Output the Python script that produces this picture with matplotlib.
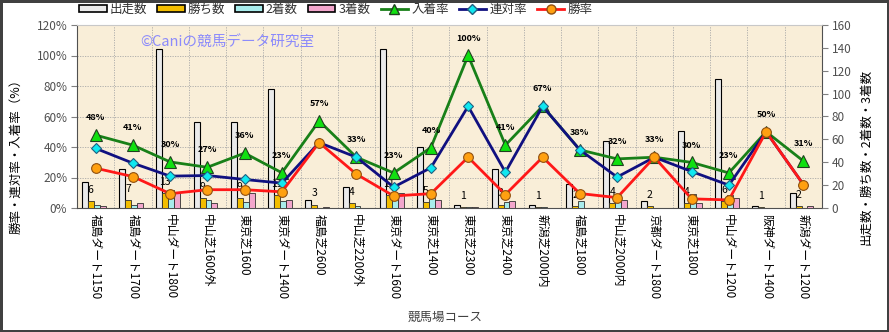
import matplotlib
matplotlib.use("Agg")
import matplotlib.pyplot as plt
from matplotlib.patches import Patch
from matplotlib.lines import Line2D
import numpy as np

plt.rcParams['font.family'] = ['Noto Sans CJK JP', 'DejaVu Sans']

categories = ['福島ダート1150', '福島ダート1700', '中山ダート1800', '中山芝1600外', '東京芝1600',
              '東京ダート1400', '福島芝2600', '中山芝2200外', '東京ダート1600', '東京芝1400',
              '東京芝2300', '東京芝2400', '新潟芝2000内', '福島芝1800', '中山芝2000内',
              '京都ダート1800', '東京芝1800', '中山ダート1200', '阪神ダート1400', '新潟ダート1200']
starts = [23, 34, 139, 75, 75, 104, 7, 18, 139, 53, 3, 34, 3, 21, 59, 6, 67, 113, 2, 13]
wins = [6, 7, 13, 9, 9, 11, 3, 4, 11, 5, 1, 3, 1, 2, 4, 2, 4, 6, 1, 2]
seconds = [3, 3, 16, 7, 5, 6, 0, 2, 8, 9, 1, 5, 1, 6, 8, 0, 12, 11, 0, 0]
thirds = [2, 4, 13, 4, 13, 7, 1, 0, 13, 7, 1, 6, 0, 0, 7, 0, 4, 9, 0, 2]
win_rate = [26.1, 20.6, 9.4, 12.0, 12.0, 10.6, 42.9, 22.2, 7.9, 9.4, 33.3, 8.8, 33.3, 9.5, 6.8, 33.3, 6.0, 5.3, 50.0, 15.4]
rentai_rate = [39.1, 29.4, 20.9, 21.3, 18.7, 16.3, 42.9, 33.3, 13.7, 26.4, 66.7, 23.5, 66.7, 38.1, 20.3, 33.3, 23.9, 15.0, 50.0, 15.4]
place_rate = [47.8, 41.2, 30.2, 26.7, 36.0, 23.1, 57.1, 33.3, 23.0, 39.6, 100.0, 41.2, 66.7, 38.1, 32.2, 33.3, 29.9, 23.0, 50.0, 30.8]
pct_ticks = [0, 20, 40, 60, 80, 100, 120]
cnt_ticks = [0, 20, 40, 60, 80, 100, 120, 140, 160]

W, H = 889, 332
fig = plt.figure(figsize=(W / 100, H / 100), dpi=100)
fig.patch.set_facecolor('white')
fig.patch.set_edgecolor('#404040')
fig.patch.set_linewidth(2.5)

rect = [77 / W, 1 - 208 / H, (822 - 77) / W, (208 - 25) / H]
ax = fig.add_axes(rect)
ax.set_facecolor('#f9eed8')
n = len(categories)
x = np.arange(n)
ax.set_xlim(-0.5, n - 0.5)
ax.set_ylim(0, 120)
ax.set_yticks(pct_ticks)
ax.set_yticklabels([f'{t}%' for t in pct_ticks])
ax.set_xticks(x)
ax.set_xticklabels(categories, rotation=270, fontsize=8.5, color='black', va='top', ha='center')
ax.set_xticks(x[:-1] + 0.5, minor=True)
ax.tick_params(axis='x', which='both', length=0, pad=4)
ax.tick_params(axis='y', length=4, colors='#808080', labelcolor='#505050', labelsize=8.5, pad=3)
ax.grid(True, axis='y', color='#a8a8a8', linestyle=(0, (1.5, 1.5)), linewidth=0.6)
ax.grid(True, axis='x', which='minor', color='#a8a8a8', linestyle=(0, (1.5, 1.5)), linewidth=0.6)
for s in ['left', 'bottom']:
    ax.spines[s].set_color('#505050')
ax.spines['top'].set_color('#c8c8c8')
ax.spines['right'].set_color('#505050')
ax.set_axisbelow(True)
ax.set_ylabel('勝率・連対率・入着率（%）', fontsize=9, color='black')
ax.yaxis.set_label_coords(-55 / 745, 0.30)

# bars
ax2 = ax.twinx()
ax2.set_ylim(0, 160)
ax2.set_yticks(cnt_ticks)
ax2.tick_params(axis='y', length=4, colors='#808080', labelcolor='#505050', labelsize=8.5, pad=3)
for s in ax2.spines.values():
    s.set_visible(False)
bw = 0.16
shift = -0.05
ax2.bar(x + shift - 1.5 * bw, starts, bw, color='#eaeaea', edgecolor='black', linewidth=0.8, zorder=2)
ax2.bar(x + shift - 0.5 * bw, wins, bw, color='#f2bd00', edgecolor='#303030', linewidth=0.6, zorder=2)
ax2.bar(x + shift + 0.5 * bw, seconds, bw, color='#a8ecec', edgecolor='#303030', linewidth=0.6, zorder=2)
ax2.bar(x + shift + 1.5 * bw, thirds, bw, color='#f2a6cc', edgecolor='#303030', linewidth=0.6, zorder=2)
for i in range(n):
    ax2.annotate(str(wins[i]), (x[i] + shift - 0.5 * bw, wins[i]), xytext=(0, 8),
                 textcoords='offset points', ha='center', va='center', fontsize=7.5, color='black', zorder=3)
ax2.set_ylabel('出走数・勝ち数・2着数・3着数', fontsize=9, color='black', rotation=90)
ax2.yaxis.set_label_coords(1 + 37 / 745, 0.28)

# lines
ax3 = ax.twinx()
ax3.set_ylim(0, 120)
ax3.set_yticks([])
for s in ax3.spines.values():
    s.set_visible(False)
ax3.plot(x, place_rate, color='#188018', linewidth=2, marker='^', markersize=8,
         markerfacecolor='#10e010', markeredgecolor='#204020', markeredgewidth=0.8, zorder=3)
ax3.plot(x, rentai_rate, color='#101080', linewidth=2, marker='D', markersize=5.5,
         markerfacecolor='#10e8f0', markeredgecolor='#206080', markeredgewidth=0.8, zorder=4)
ax3.plot(x, win_rate, color='#ff1818', linewidth=2, marker='o', markersize=7,
         markerfacecolor='#ffa010', markeredgecolor='#905010', markeredgewidth=0.8, zorder=5)
for i in range(n):
    ax3.annotate(f'{round(place_rate[i])}%', (x[i], place_rate[i]), xytext=(0, 12.5),
                 textcoords='offset points', ha='center', va='center', fontsize=6.5,
                 fontweight='bold', color='black', zorder=6)

ax3.text(0.085, 0.905, '©Caniの競馬データ研究室', transform=ax3.transAxes, fontsize=10.5,
         color='#8080ff', alpha=0.9, ha='left', va='center', zorder=1)

fig.text(445 / W, 1 - 317 / H, '競馬場コース', fontsize=9, color='#404040', ha='center', va='center')

handles = [
    Patch(facecolor='#eaeaea', edgecolor='black', linewidth=1.2, label='出走数'),
    Patch(facecolor='#f2bd00', edgecolor='black', linewidth=1.2, label='勝ち数'),
    Patch(facecolor='#a8ecec', edgecolor='black', linewidth=1.2, label='2着数'),
    Patch(facecolor='#f2a6cc', edgecolor='black', linewidth=1.2, label='3着数'),
    Line2D([], [], color='#188018', linewidth=2, marker='^', markersize=7,
           markerfacecolor='#10e010', markeredgecolor='#204020', label='入着率'),
    Line2D([], [], color='#101080', linewidth=2, marker='D', markersize=5,
           markerfacecolor='#10e8f0', markeredgecolor='#206080', label='連対率'),
    Line2D([], [], color='#ff1818', linewidth=2, marker='o', markersize=6.5,
           markerfacecolor='#ffa010', markeredgecolor='#905010', label='勝率'),
]
leg = fig.legend(handles=handles, loc='upper left', bbox_to_anchor=(79 / W, 1 - 3 / H), ncol=7,
                 frameon=False, fontsize=9, handlelength=2.2, handleheight=0.5, handletextpad=0.25,
                 columnspacing=0.8, borderaxespad=0, borderpad=0)
for t in leg.get_texts():
    t.set_color('#303030')

fig.savefig('out.png', dpi=100)
